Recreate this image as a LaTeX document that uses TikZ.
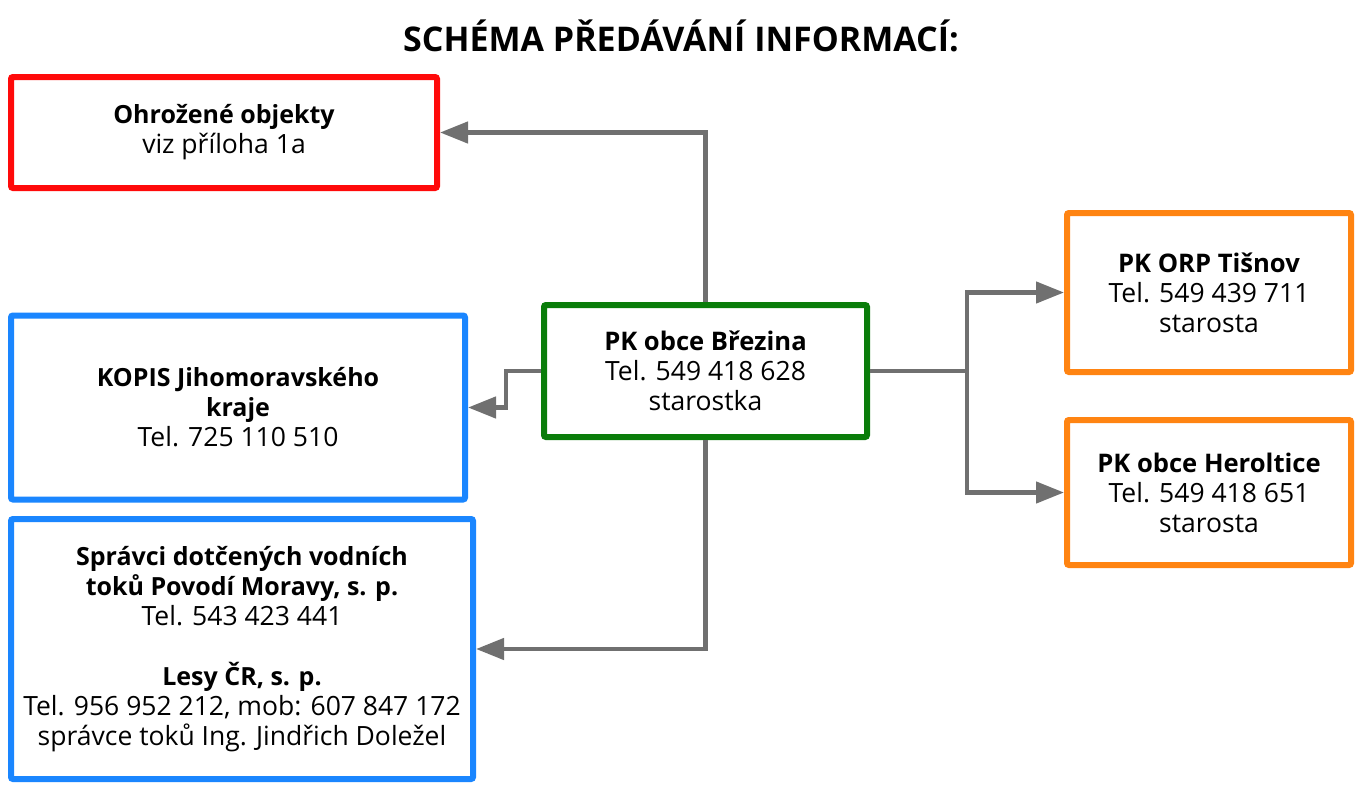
\documentclass[tikz,border=0pt]{standalone}
\usepackage{fontspec}
\setmainfont{Open Sans}
\usetikzlibrary{arrows.meta}
\definecolor{cred}{HTML}{FF0A0A}
\definecolor{cblue}{HTML}{1A86FF}
\definecolor{cgreen}{HTML}{0A7D0A}
\definecolor{corange}{HTML}{FF8412}
\definecolor{cgray}{HTML}{707070}
\newcommand{\hdl}[1]{{\fontsize{25}{30}\selectfont\bfseries #1}}
\newcommand{\hdr}[1]{{\fontsize{25.6}{30}\selectfont\bfseries #1}}
\begin{document}
\begin{tikzpicture}[x=1pt,y=-1pt,
  box/.style={draw, line width=6pt, rounded corners=2pt, align=center, inner sep=0pt,
    font=\fontsize{26.5}{30}\selectfont, fill=white},
  wire/.style={draw=cgray, line width=4.5pt},
  link/.style={wire, -{Triangle[length=28pt,width=21pt]}}]
\useasboundingbox (0,0) rectangle (1360,787);
\fill[white] (0,0) rectangle (1360,787);
\node[font=\bfseries\fontsize{34}{40}\selectfont] (title) at (681,36) {SCHÉMA PŘEDÁVÁNÍ INFORMACÍ:};
\node[box, draw=cred, minimum width=426pt, minimum height=111pt] (obj) at (224,132.5)
  {\hdl{Ohrožené objekty}\\viz příloha 1a};
\node[box, draw=cblue, minimum width=454pt, minimum height=184pt] (kopis) at (238,407.5)
  {\hdl{KOPIS Jihomoravského}\\\hdl{kraje}\\Tel. 725 110 510};
\node[box, draw=cblue, minimum width=462pt, minimum height=260pt] (sprav) at (242,649)
  {\hdl{Správci dotčených vodních}\\\hdl{toků Povodí Moravy, s. p.}\\Tel. 543 423 441\\[30pt]
   \hdl{Lesy ČR, s. p.}\\Tel. 956 952 212, mob: 607 847 172\\správce toků Ing. Jindřich Doležel};
\node[box, draw=cgreen, minimum width=323pt, minimum height=132pt] (pk) at (705.5,371)
  {\hdr{PK obce Březina}\\Tel. 549 418 628\\starostka};
\node[box, draw=corange, minimum width=284pt, minimum height=159pt] (orp) at (1209,292.5)
  {\hdr{PK ORP Tišnov}\\Tel. 549 439 711\\starosta};
\node[box, draw=corange, minimum width=284pt, minimum height=145pt] (her) at (1209,492.5)
  {\hdr{PK obce Heroltice}\\Tel. 549 418 651\\starosta};
\coordinate (br) at ([xshift=97pt]pk.east);
\draw[link] (pk.north) |- (obj.east);
\draw[link] (pk.west) -- ++(-35,0) |- (kopis.east);
\draw[link] (pk.south) |- (sprav.east);
\draw[wire] (pk.east) -- (br);
\draw[link] (br) |- (orp.west);
\draw[link] (br) |- (her.west);
\end{tikzpicture}
\end{document}
